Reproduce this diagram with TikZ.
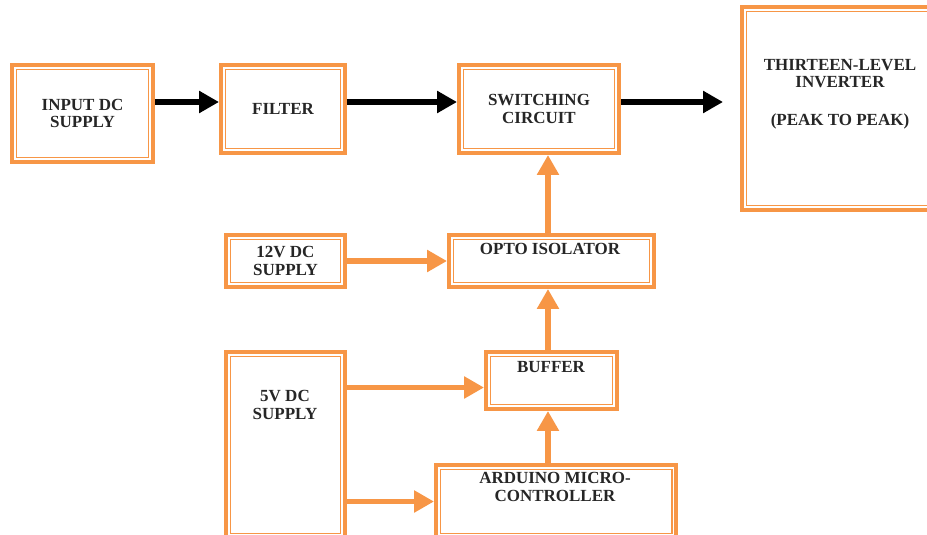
\documentclass[tikz,border=0pt]{standalone}
\usepackage{fontspec}
\setmainfont{Liberation Serif}
\usepackage{tikz}
\usetikzlibrary{arrows.meta,positioning,calc}

\definecolor{boxorange}{RGB}{247,150,70}

\begin{document}
\begin{tikzpicture}[
        x=0.03cm, y=-0.03cm,
        block/.style={
            rectangle,
            draw=boxorange,
            line width=3.4pt,
            fill=white,
            text centered,
            align=center,
            inner sep=2pt,
            text=black!85,
            font=\bfseries\fontsize{14.5}{15}\selectfont,
            path picture={
                \draw[boxorange, line width=1pt]
                    ([shift={(3.5pt,3.5pt)}]path picture bounding box.south west) rectangle
                    ([shift={(-3.5pt,-3.5pt)}]path picture bounding box.north east);
            }
        },
        blocktext/.style={
            align=center,
            inner sep=0pt,
            text=black!85,
            font=\bfseries\fontsize{14.5}{15}\selectfont
        },
        mainarrow/.style={-{Triangle[length=17pt, width=18pt]}, line width=5pt, draw=black},
        ctrlarrow/.style={-{Triangle[length=17pt, width=18pt]}, line width=5pt, draw=boxorange}
    ]
        \clip (0,0) rectangle (927,535);

        % Power path
        \node[block, minimum width=4.23cm, minimum height=2.91cm] (input) at (82.5,113.5) {INPUT DC\\SUPPLY};
        \node[block, minimum width=3.72cm, minimum height=2.64cm] (filter) at (283,109) {FILTER};
        \node[block, minimum width=4.8cm, minimum height=2.64cm] (switching) at (539,109) {SWITCHING\\CIRCUIT};
        \node[block, minimum width=6.18cm, minimum height=6.09cm] (inverter) at (845,108.5) {};
        \node[blocktext] (inverter-text) at (840,94) {THIRTEEN-LEVEL\\INVERTER\\[17pt](PEAK TO PEAK)};

        % Control path
        \node[block, minimum width=3.57cm, minimum height=1.56cm] (v12) at (285.5,261) {12V DC\\SUPPLY};
        \node[block, minimum width=6.15cm, minimum height=1.56cm] (opto) at (551.5,261) {};
        \node[blocktext] (opto-text) at (550,249) {OPTO ISOLATOR};
        \node[block, minimum width=3.93cm, minimum height=1.71cm] (buffer) at (551.5,380.5) {};
        \node[blocktext] (buffer-text) at (551,367) {BUFFER};
        \node[block, minimum width=3.57cm, minimum height=5.58cm] (v5) at (285.5,445) {};
        \node[blocktext] (v5-text) at (285,405) {5V DC\\SUPPLY};
        \node[block, minimum width=7.2cm, minimum height=2.19cm] (arduino) at (556,501.5) {};
        \node[blocktext] (arduino-text) at (555,487) {ARDUINO MICRO-\\CONTROLLER};

        \coordinate (row) at (0,102);
        \coordinate (out) at (723,102);
        \coordinate (b5) at ($(buffer.west)+(0,7)$);

        % Main arrows
        \draw[mainarrow] (input.east |- row) -- (filter.west |- row);
        \draw[mainarrow] (filter.east |- row) -- (switching.west |- row);
        \draw[mainarrow] (switching.east |- row) -- (out);

        % Control arrows
        \draw[ctrlarrow] (v12.east |- opto.west) -- (opto.west);
        \draw[ctrlarrow] ([xshift=-3pt]opto.north) -- ([xshift=-3pt]opto.north |- switching.south);
        \draw[ctrlarrow] ([xshift=-3pt]buffer.north) -- ([xshift=-3pt]buffer.north |- opto.south);
        \draw[ctrlarrow] ([xshift=-3pt]arduino.north -| buffer.north) -- ([xshift=-3pt]buffer.south);
        \draw[ctrlarrow] (v5.east |- b5) -- (b5);
        \draw[ctrlarrow] (v5.east |- arduino.west) -- (arduino.west);

    \end{tikzpicture}
\end{document}
